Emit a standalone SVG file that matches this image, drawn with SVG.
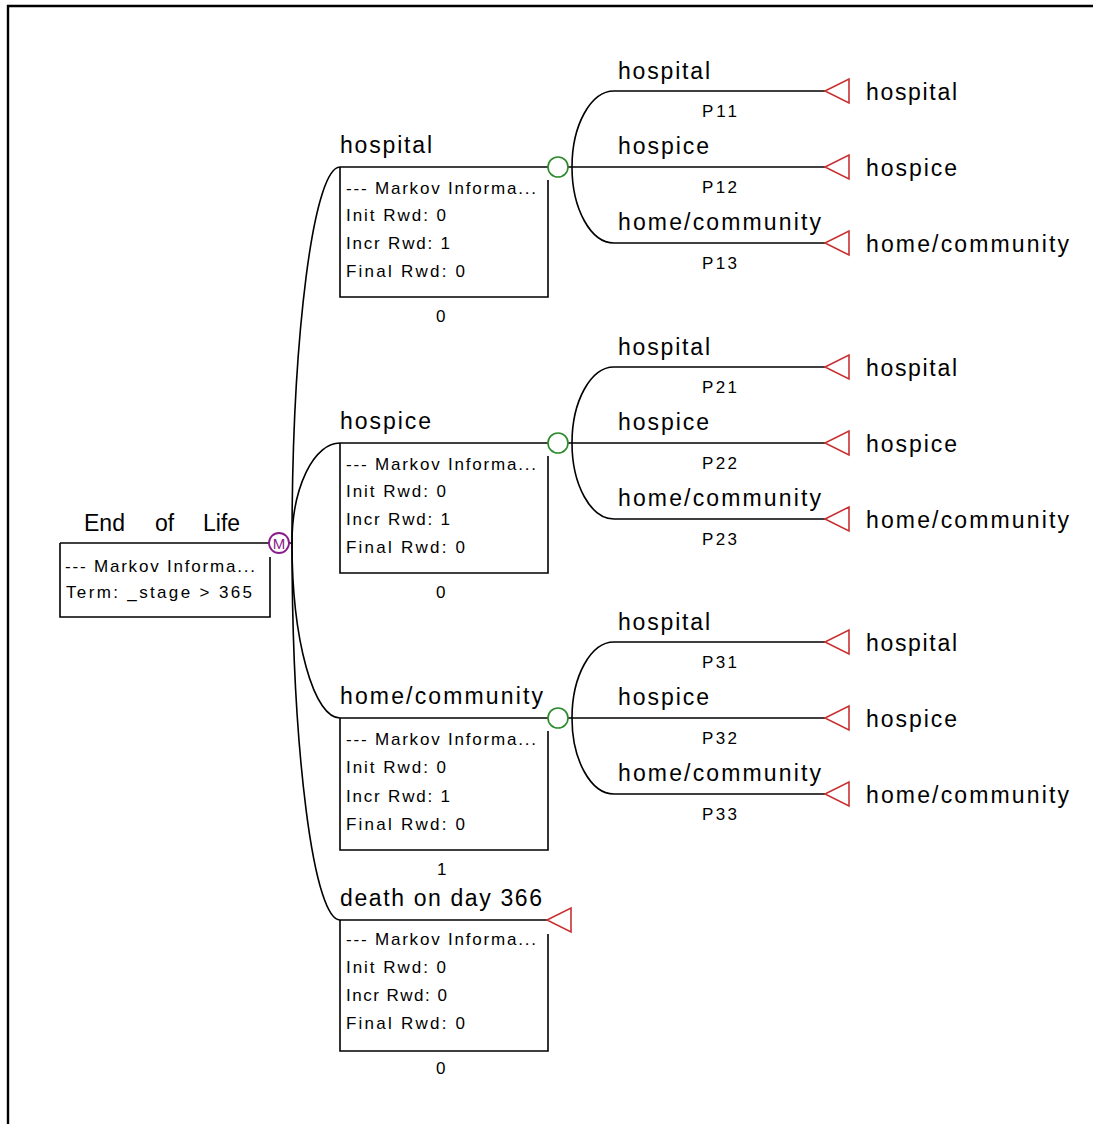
<svg xmlns="http://www.w3.org/2000/svg" width="1093" height="1124" viewBox="0 0 1093 1124">
<style>
.ln{stroke:#000;stroke-width:1.6;fill:none}
.box{stroke:#000;stroke-width:1.6;fill:none}
.term{stroke:#c83232;stroke-width:1.6;fill:#fff}
.chance{stroke:#2a8a2a;stroke-width:1.6;fill:#fff}
.markov{stroke:#8b1a8b;stroke-width:1.8;fill:#fff}
.lbl{font-family:"Liberation Sans",Arial,sans-serif;font-size:23px;fill:#000}
.sm{font-family:"Liberation Sans",Arial,sans-serif;font-size:17px;fill:#000}
</style>
<rect width="1093" height="1124" fill="#fff"/>
<path d="M8,1124 V6 H1093" stroke="#000" stroke-width="2.4" fill="none"/>

<g id="connectors">
  <path class="ln" d="M288,543 H292 A48 376 0 0 1 340,167"/>
  <path class="ln" d="M292,543 A48 100 0 0 1 340,443"/>
  <path class="ln" d="M292,543 A48 175 0 0 0 340,718"/>
  <path class="ln" d="M292,543 A48 377 0 0 0 340,920"/>
  <path class="ln" d="M572,167 A42 76 0 0 1 614,91 H825"/>
  <path class="ln" d="M568,167 H825"/>
  <path class="ln" d="M572,167 A42 76 0 0 0 614,243 H825"/>
  <path class="ln" d="M572,443 A42 76 0 0 1 614,367 H825"/>
  <path class="ln" d="M568,443 H825"/>
  <path class="ln" d="M572,443 A42 76 0 0 0 614,519 H825"/>
  <path class="ln" d="M572,718 A42 76 0 0 1 614,642 H825"/>
  <path class="ln" d="M568,718 H825"/>
  <path class="ln" d="M572,718 A42 76 0 0 0 614,794 H825"/>
  <text class="lbl" x="618" y="79" textLength="92" lengthAdjust="spacing">hospital</text>
  <text class="sm" x="702" y="117" textLength="35" lengthAdjust="spacing">P11</text>
  <text class="lbl" x="618" y="154" textLength="91" lengthAdjust="spacing">hospice</text>
  <text class="sm" x="702" y="193" textLength="35" lengthAdjust="spacing">P12</text>
  <text class="lbl" x="618" y="230" textLength="203" lengthAdjust="spacing">home/community</text>
  <text class="sm" x="702" y="269" textLength="35" lengthAdjust="spacing">P13</text>

  <text class="lbl" x="618" y="355" textLength="92" lengthAdjust="spacing">hospital</text>
  <text class="sm" x="702" y="393" textLength="35" lengthAdjust="spacing">P21</text>
  <text class="lbl" x="618" y="430" textLength="91" lengthAdjust="spacing">hospice</text>
  <text class="sm" x="702" y="469" textLength="35" lengthAdjust="spacing">P22</text>
  <text class="lbl" x="618" y="506" textLength="203" lengthAdjust="spacing">home/community</text>
  <text class="sm" x="702" y="545" textLength="35" lengthAdjust="spacing">P23</text>

  <text class="lbl" x="618" y="630" textLength="92" lengthAdjust="spacing">hospital</text>
  <text class="sm" x="702" y="668" textLength="35" lengthAdjust="spacing">P31</text>
  <text class="lbl" x="618" y="705" textLength="91" lengthAdjust="spacing">hospice</text>
  <text class="sm" x="702" y="744" textLength="35" lengthAdjust="spacing">P32</text>
  <text class="lbl" x="618" y="781" textLength="203" lengthAdjust="spacing">home/community</text>
  <text class="sm" x="702" y="820" textLength="35" lengthAdjust="spacing">P33</text>
</g>

<g id="root">
  <text class="lbl" x="84" y="531">End <tspan x="155">of</tspan> <tspan x="203">Life</tspan></text>
  <path class="ln" d="M60,543 H270"/>
  <path class="box" d="M270,557 V617 H60 V543"/>
  <text class="sm" x="65" y="572" textLength="190" lengthAdjust="spacing">--- Markov Informa...</text>
  <text class="sm" x="66" y="598" textLength="186" lengthAdjust="spacing">Term: _stage &gt; 365</text>
  <circle class="markov" cx="279" cy="543" r="10"/>
  <text x="279" y="549" text-anchor="middle" font-family="Liberation Sans, Arial, sans-serif" font-size="15" fill="#8b1a8b">M</text>
</g>

<g id="state-hospital">
  <text class="lbl" x="340" y="153" textLength="92" lengthAdjust="spacing">hospital</text>
  <path class="ln" d="M340,167 H548"/>
  <path class="box" d="M548,180 V297 H340 V167"/>
  <text class="sm" x="346" y="194" textLength="190" lengthAdjust="spacing">--- Markov Informa...</text>
  <text class="sm" x="346" y="221" textLength="100" lengthAdjust="spacing">Init Rwd: 0</text>
  <text class="sm" x="346" y="249" textLength="104" lengthAdjust="spacing">Incr Rwd: 1</text>
  <text class="sm" x="346" y="277" textLength="119" lengthAdjust="spacing">Final Rwd: 0</text>
  <text class="sm" x="436" y="322">0</text>
  <circle class="chance" cx="558" cy="167" r="10"/>
</g>

<g id="state-hospice">
  <text class="lbl" x="340" y="429" textLength="91" lengthAdjust="spacing">hospice</text>
  <path class="ln" d="M340,443 H548"/>
  <path class="box" d="M548,456 V573 H340 V443"/>
  <text class="sm" x="346" y="470" textLength="190" lengthAdjust="spacing">--- Markov Informa...</text>
  <text class="sm" x="346" y="497" textLength="100" lengthAdjust="spacing">Init Rwd: 0</text>
  <text class="sm" x="346" y="525" textLength="104" lengthAdjust="spacing">Incr Rwd: 1</text>
  <text class="sm" x="346" y="553" textLength="119" lengthAdjust="spacing">Final Rwd: 0</text>
  <text class="sm" x="436" y="598">0</text>
  <circle class="chance" cx="558" cy="443" r="10"/>
</g>

<g id="state-home">
  <text class="lbl" x="340" y="704" textLength="203" lengthAdjust="spacing">home/community</text>
  <path class="ln" d="M340,718 H548"/>
  <path class="box" d="M548,731 V850 H340 V718"/>
  <text class="sm" x="346" y="745" textLength="190" lengthAdjust="spacing">--- Markov Informa...</text>
  <text class="sm" x="346" y="773" textLength="100" lengthAdjust="spacing">Init Rwd: 0</text>
  <text class="sm" x="346" y="802" textLength="104" lengthAdjust="spacing">Incr Rwd: 1</text>
  <text class="sm" x="346" y="830" textLength="119" lengthAdjust="spacing">Final Rwd: 0</text>
  <text class="sm" x="437" y="875">1</text>
  <circle class="chance" cx="558" cy="718" r="10"/>
</g>

<g id="state-death">
  <text class="lbl" x="340" y="906" textLength="202" lengthAdjust="spacing">death on day 366</text>
  <path class="ln" d="M340,920 H547"/>
  <path class="box" d="M548,934 V1051 H340 V920"/>
  <text class="sm" x="346" y="945" textLength="190" lengthAdjust="spacing">--- Markov Informa...</text>
  <text class="sm" x="346" y="973" textLength="100" lengthAdjust="spacing">Init Rwd: 0</text>
  <text class="sm" x="346" y="1001" textLength="101" lengthAdjust="spacing">Incr Rwd: 0</text>
  <text class="sm" x="346" y="1029" textLength="119" lengthAdjust="spacing">Final Rwd: 0</text>
  <text class="sm" x="436" y="1074">0</text>
  <path class="term" d="M547,920 L571,908 L571,932 Z"/>
</g>

<g id="term-1-1"><path class="term" d="M825,91 L849,79 L849,103 Z"/><text class="lbl" x="866" y="100" textLength="91" lengthAdjust="spacing">hospital</text></g>
<g id="term-1-2"><path class="term" d="M825,167 L849,155 L849,179 Z"/><text class="lbl" x="866" y="176" textLength="91" lengthAdjust="spacing">hospice</text></g>
<g id="term-1-3"><path class="term" d="M825,243 L849,231 L849,255 Z"/><text class="lbl" x="866" y="252" textLength="203" lengthAdjust="spacing">home/community</text></g>
<g id="term-2-1"><path class="term" d="M825,367 L849,355 L849,379 Z"/><text class="lbl" x="866" y="376" textLength="91" lengthAdjust="spacing">hospital</text></g>
<g id="term-2-2"><path class="term" d="M825,443 L849,431 L849,455 Z"/><text class="lbl" x="866" y="452" textLength="91" lengthAdjust="spacing">hospice</text></g>
<g id="term-2-3"><path class="term" d="M825,519 L849,507 L849,531 Z"/><text class="lbl" x="866" y="528" textLength="203" lengthAdjust="spacing">home/community</text></g>
<g id="term-3-1"><path class="term" d="M825,642 L849,630 L849,654 Z"/><text class="lbl" x="866" y="651" textLength="91" lengthAdjust="spacing">hospital</text></g>
<g id="term-3-2"><path class="term" d="M825,718 L849,706 L849,730 Z"/><text class="lbl" x="866" y="727" textLength="91" lengthAdjust="spacing">hospice</text></g>
<g id="term-3-3"><path class="term" d="M825,794 L849,782 L849,806 Z"/><text class="lbl" x="866" y="803" textLength="203" lengthAdjust="spacing">home/community</text></g>
</svg>
